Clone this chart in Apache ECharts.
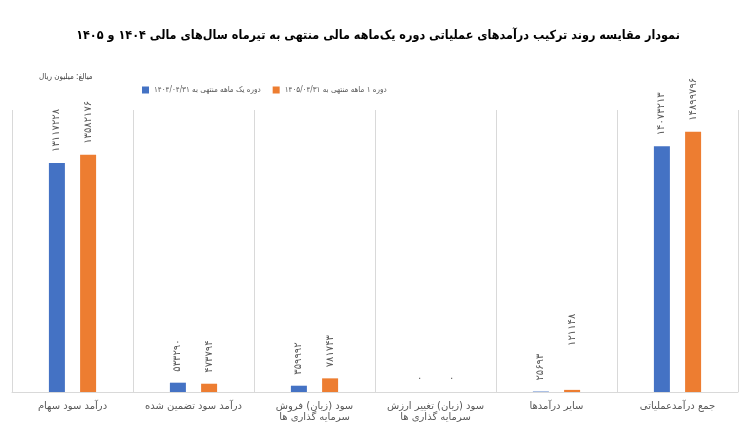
<!DOCTYPE html>
<html>
<head>
<meta charset="utf-8">
<script src="https://cdn.jsdelivr.net/npm/echarts@6/dist/echarts.min.js"></script>
<style>
  html, body { margin: 0; padding: 0; background: #fff; }
  #container { width: 756px; height: 423px; }
</style>
</head>
<body>
<div id="container"></div>
<script>
var categories = [
    'درآمد سود سهام',
    'درآمد سود تضمین شده',
    'سود (زیان) فروش\nسرمایه گذاری ها',
    'سود (زیان) تغییر ارزش\nسرمایه گذاری ها',
    'سایر درآمدها',
    'جمع درآمدعملیاتی'
];
var values1404 = [13117228, 533290, 359992, 0, 25693, 14073213];
var values1405 = [13582176, 473794, 781743, 0, 121148, 14899796];
var seriesNames = ['دوره یک ماهه منتهی به ۱۴۰۴/۰۴/۳۱', 'دوره ۱ ماهه منتهی به ۱۴۰۵/۰۴/۳۱'];

var font = 'DejaVu Sans';
var fontCond = 'DejaVu Sans Condensed';

function toFa(n) {
    return String(n).replace(/[0-9]/g, function (d) { return '۰۱۲۳۴۵۶۷۸۹'[d]; });
}

var dom = document.getElementById('container');
var myChart = echarts.init(dom);

var barLabel = {
    show: true,
    position: 'top',
    rotate: 90,
    align: 'left',
    verticalAlign: 'middle',
    distance: 11,
    color: '#595959',
    fontSize: 10,
    fontFamily: font,
    formatter: function (p) { return toFa(p.value); }
};

// orange label of "سایر درآمدها" sits higher in the reference
var data1405 = values1405.map(function (v, i) {
    if (i === 4) return { value: v, label: { distance: 44 } };
    return v;
});

var option = {
    animation: false,
    textStyle: { fontFamily: font },
    title: [{
        text: 'نمودار مقایسه روند ترکیب درآمدهای عملیاتی دوره یک‌ماهه مالی منتهی به تیرماه سال‌های مالی ۱۴۰۴ و ۱۴۰۵',
        left: 'center',
        top: 24,
        textStyle: { fontSize: 12.5, fontWeight: 'bold', color: '#000', fontFamily: fontCond }
    }, {
        text: 'میالغ: میلیون ریال',
        left: 34,
        top: 68,
        textStyle: { fontSize: 8, fontWeight: 'normal', color: '#404040', fontFamily: fontCond }
    }],
    legend: {
        left: 137,
        top: 81,
        itemWidth: 7,
        itemHeight: 7,
        itemGap: 12,
        icon: 'rect',
        textStyle: { fontSize: 8, color: '#595959', fontFamily: fontCond }
    },
    grid: {
        left: 12,
        right: 18,
        top: 110,
        bottom: 31,
        outerBoundsMode: 'none'
    },
    xAxis: {
        type: 'category',
        data: categories,
        boundaryGap: true,
        axisLine: { lineStyle: { color: '#d9d9d9' } },
        axisTick: { show: false },
        splitLine: { show: true, lineStyle: { color: '#d9d9d9' } },
        axisLabel: {
            interval: 0,
            color: '#595959',
            fontSize: 10,
            lineHeight: 11,
            margin: 9,
            fontFamily: font
        }
    },
    yAxis: {
        type: 'value',
        min: 0,
        max: 16150000,
        show: false,
        splitLine: { show: false }
    },
    series: [{
        name: seriesNames[0],
        type: 'bar',
        data: values1404,
        barWidth: 16,
        barGap: '95%',
        itemStyle: { color: '#4472c4' },
        label: barLabel
    }, {
        name: seriesNames[1],
        type: 'bar',
        data: data1405,
        barWidth: 16,
        itemStyle: { color: '#ed7d31' },
        label: barLabel
    }]
};

myChart.setOption(option);
</script>
</body>
</html>
